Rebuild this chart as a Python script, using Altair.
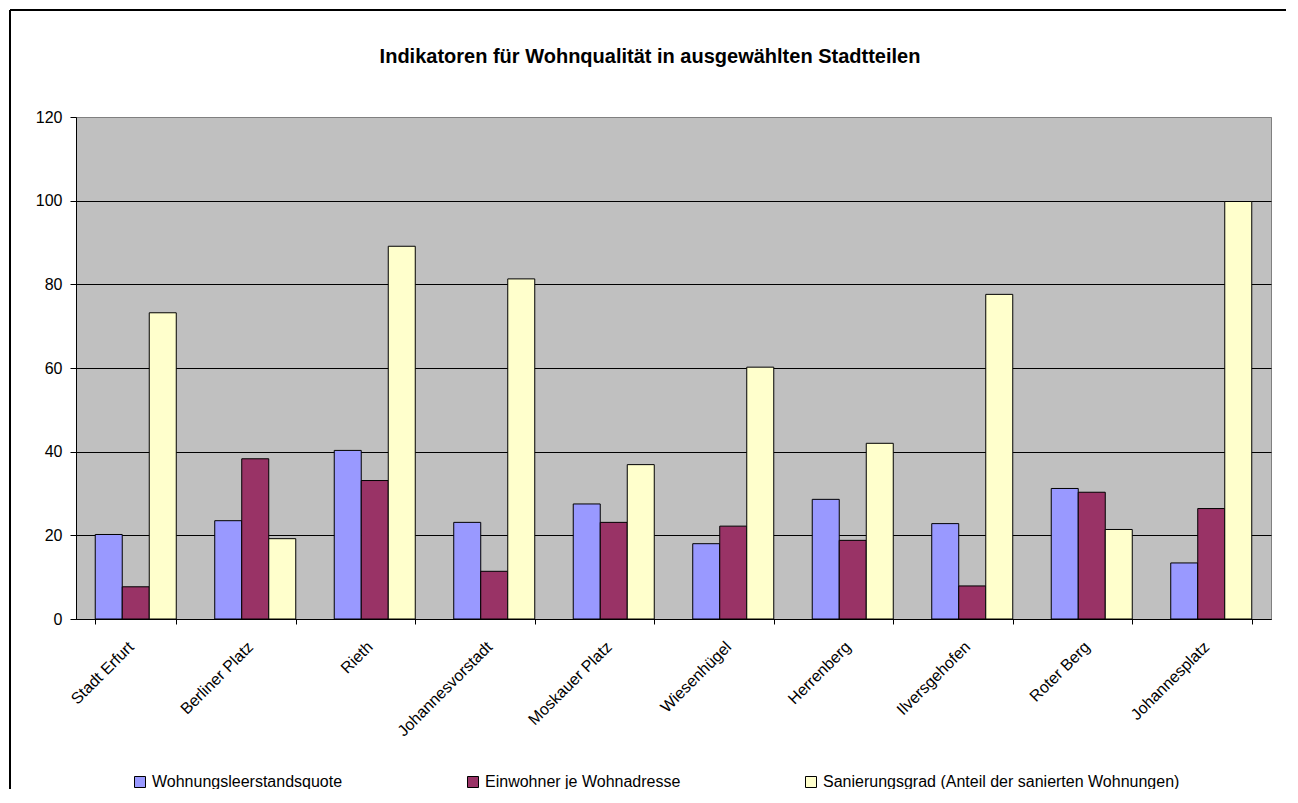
import altair as alt
import pandas as pd

categories = ["Stadt Erfurt", "Berliner Platz", "Rieth", "Johannesvorstadt", "Moskauer Platz",
              "Wiesenhügel", "Herrenberg", "Ilversgehofen", "Roter Berg", "Johannesplatz"]
series = ["Wohnungsleerstandsquote", "Einwohner je Wohnadresse",
          "Sanierungsgrad (Anteil der sanierten Wohnungen)"]
leerstand = [20.2, 23.5, 40.3, 23.1, 27.5, 18.0, 28.6, 22.8, 31.2, 13.4]
einwohner = [7.7, 38.3, 33.1, 11.4, 23.1, 22.2, 18.8, 7.9, 30.3, 26.4]
sanierung = [73.2, 19.2, 89.1, 81.3, 36.9, 60.2, 42.0, 77.6, 21.4, 99.8]
colors = ["#9999FF", "#993366", "#FFFFCC"]
y_ticks = [0, 20, 40, 60, 80, 100, 120]
title_text = "Indikatoren für Wohnqualität in ausgewählten Stadtteilen"

rows = []
for s, vals in zip(series, [leerstand, einwohner, sanierung]):
    for c, v in zip(categories, vals):
        rows.append({"Stadtteil": c, "Reihe": s, "Wert": v})
df = pd.DataFrame(rows)

FONT = "Arial, Liberation Sans, sans-serif"
W, H = 1195, 502

bars = alt.Chart(df).mark_bar(stroke="black", strokeWidth=1).encode(
    x=alt.X("Stadtteil:N", sort=categories, title=None,
            scale=alt.Scale(paddingInner=0.322, paddingOuter=0.161),
            axis=alt.Axis(labelAngle=315, labelAlign="right", labelBaseline="middle",
                          labelFont=FONT, labelFontSize=16, labelColor="black",
                          labelPadding=20, labelOffset=-5, labelOverlap=False, labelLimit=300,
                          tickBand="extent", tickSize=5, tickColor="black",
                          domainColor="black", grid=False)),
    xOffset=alt.XOffset("Reihe:N", sort=series, scale=alt.Scale(paddingInner=0, paddingOuter=0)),
    y=alt.Y("Wert:Q", title=None,
            scale=alt.Scale(domain=[0, 120], nice=False),
            axis=alt.Axis(values=y_ticks, labelFont=FONT, labelFontSize=16, labelColor="black",
                          labelPadding=8, tickSize=6, tickColor="black", domainColor="black",
                          grid=True,
                          gridColor={"condition": {"test": "datum.value == 120", "value": "#808080"},
                                     "value": "#000000"},
                          gridWidth=1)),
    fill=alt.Fill("Reihe:N", sort=series,
                  scale=alt.Scale(domain=series, range=colors),
                  legend=alt.Legend(title=None, orient="none", direction="horizontal",
                                    columns=3, columnPadding=122, legendX=56, legendY=657,
                                    symbolType="square", symbolSize=121,
                                    symbolStrokeColor="black", symbolStrokeWidth=1,
                                    labelFont=FONT, labelFontSize=16, labelColor="black",
                                    labelOffset=4, labelLimit=500, padding=0)),
)

one = pd.DataFrame({"a": [0]})
left_border = alt.Chart(one).mark_rule(color="black", strokeWidth=2).encode(
    x=alt.value(-66), y=alt.value(-107), y2=alt.value(H + 180))
top_border = alt.Chart(one).mark_rule(color="black", strokeWidth=2).encode(
    y=alt.value(-107), x=alt.value(-66), x2=alt.value(W + 40))
title = alt.Chart(one).mark_text(text=title_text, font=FONT, fontSize=20, fontWeight="bold",
                                 color="black", align="center", baseline="alphabetic").encode(
    x=alt.value(574), y=alt.value(-54))

chart = alt.layer(bars, left_border, top_border, title).properties(
    width=W, height=H,
    padding={"left": 68, "top": 109, "right": 15, "bottom": 170},
    autosize=alt.AutoSizeParams(type="none"),
    background="white",
).configure_view(fill="#C0C0C0", stroke="#808080", strokeWidth=1)

chart.save("out.html", embed_options={"renderer": "svg", "actions": False})
